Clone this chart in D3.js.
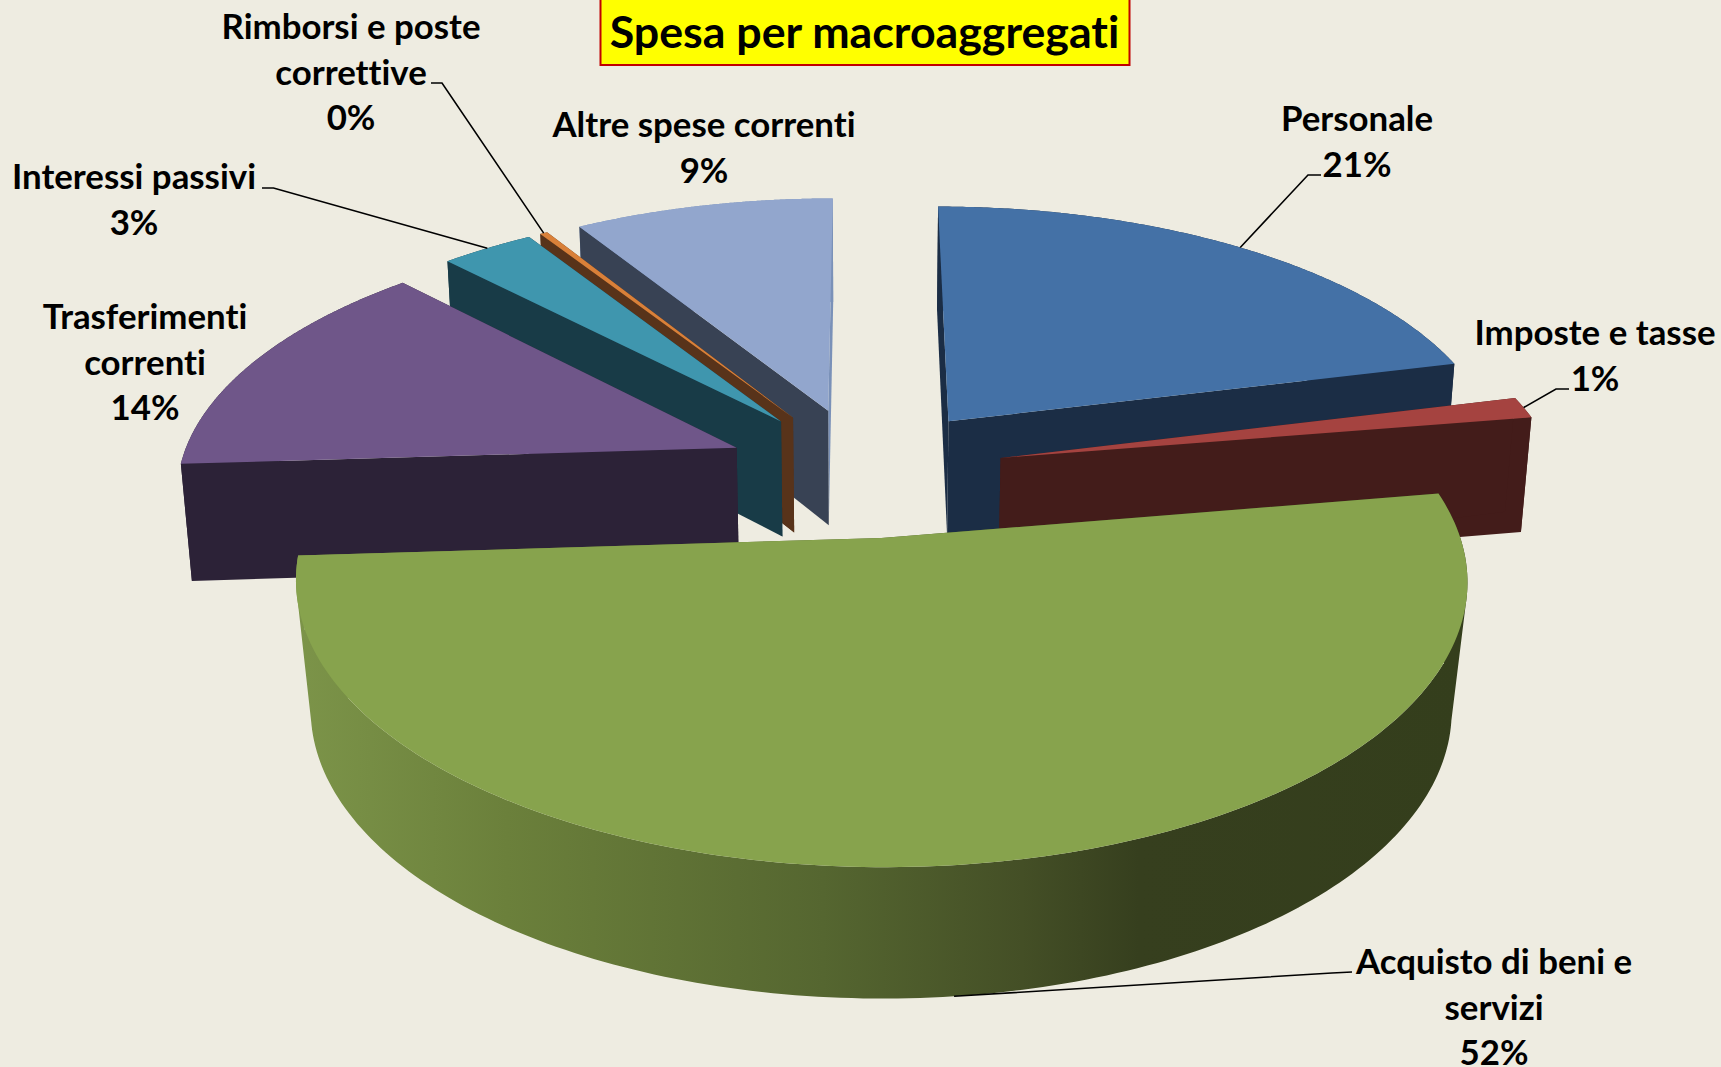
<!DOCTYPE html>
<html><head><meta charset="utf-8">
<script src="https://cdn.jsdelivr.net/npm/d3@7/dist/d3.min.js"></script>
<style>html,body{margin:0;padding:0;background:#eeece1;overflow:hidden}svg{display:block}text{font-family:Lato,sans-serif;font-weight:700;fill:#000;font-variant-ligatures:none}</style>
</head><body><svg id="c" width="1721" height="1067"></svg>
<script>
const categories=["Personale","Imposte e tasse","Acquisto di beni e servizi","Trasferimenti correnti","Interessi passivi","Rimborsi e poste correttive","Altre spese correnti"];
const values=[21.1,1.3,51.6,13.8,3.15,0.25,8.8];
const topColors=["#4471a6","#a54340","#87a34d","#6f5689","#3f96ae","#d98039","#92a6cd"];
const startWallColors=["#1b2d45","#431c1a","url(#rim)","#2c2237","#183b47","#58331a","#384254"];
const endWallColors=["#1b2d45","#431c1a","url(#rim)","#2c2237","#183b47","#58331a","#7a91b8"];
const paintOrder=[6,5,4,3,0,1,2];
const labelLines=[["Personale"],["Imposte e tasse"],["Acquisto di beni e","servizi"],["Trasferimenti","correnti"],["Interessi passivi"],["Rimborsi e poste","correttive"],["Altre spese correnti"]];
const labelX=[1357,1595,1494,145,134,351,704];
const labelY=[131,345,974,329,189,39,137];
const leaderKnee=[[1308,175],[1556,389],[1332,973],null,[273.5,188],[442,83],null];
const leaderEnd=[[1321,175],[1569,389],[1352,972],null,[262,188],[431,83],null];
const explode=0.25,persp=0.146,drop=0.0165,depth=0.46;
const rimPersp=[persp,persp,0.10,persp,persp,persp,persp];
const rimDepth=[depth,depth,0.547,depth,depth,depth,depth];
const rimDrop=[drop,drop,0.008,drop,drop,drop,drop];
const x=d3.scaleLinear().domain([-1,1]).range([307,1423]);
const y=d3.scaleLinear().domain([-1,1]).range([211.5,730.5]);
const svg=d3.select("#c");
svg.append("rect").attr("width",1721).attr("height",1067).attr("fill","#eeece1");
const defs=svg.append("defs");
const grad=defs.append("linearGradient").attr("id","rim").attr("gradientUnits","userSpaceOnUse").attr("x1",296).attr("x2",1467).attr("y1",0).attr("y2",0);
[[0,"#7c9449"],[.18,"#6b803b"],[.45,"#556630"],[.62,"#444f26"],[.72,"#363f1e"],[1,"#343e1c"]].forEach(s=>grad.append("stop").attr("offset",s[0]).attr("stop-color",s[1]));
const arcs=d3.pie().sort(null).value(d=>d)(values);
function proj(a,r,w,mid,k=persp,h=depth,m=drop){
  const U=r*Math.sin(a)+explode*Math.sin(mid),V=-r*Math.cos(a)-explode*Math.cos(mid),d=1-k*V+m*w;
  return [x(U/d),y((V+h*w)/d)];
}
const line=d3.line().curve(d3.curveLinear);
const closed=p=>line(p)+"Z";
const upright=q=>d3.polygonArea(q)<0?q.slice().reverse():q;
const sampleAngles=(a0,a1)=>d3.range(0,181).map(i=>a0+(a1-a0)*i/180);
const g=svg.append("g");
paintOrder.forEach(i=>{
  const s=arcs[i],mid=(s.startAngle+s.endAngle)/2,A=sampleAngles(s.startAngle,s.endAngle);
  const low=(a,r)=>proj(a,r,1,mid,rimPersp[i],rimDepth[i],rimDrop[i]);
  const gs=g.append("g").attr("class","slice");
  // outer wall: one quad per angular step so the silhouette follows the generators
  const quads=d3.pairs(A).map(([a,b])=>closed(upright([proj(a,1,0,mid),proj(b,1,0,mid),low(b,1),low(a,1)]))).join("");
  gs.append("path").attr("d",quads).attr("fill",endWallColors[i]);
  gs.append("path").attr("d",closed([proj(0,0,0,mid),proj(s.endAngle,1,0,mid),low(s.endAngle,1),low(0,0)])).attr("fill",endWallColors[i]);
  gs.append("path").attr("d",closed([proj(0,0,0,mid),proj(s.startAngle,1,0,mid),low(s.startAngle,1),low(0,0)])).attr("fill",startWallColors[i]);
  gs.append("path").attr("d",closed([proj(0,0,0,mid)].concat(A.map(a=>proj(a,1,0,mid))))).attr("fill",topColors[i]);
});
// leader lines
arcs.forEach((s,i)=>{
  if(!leaderKnee[i])return;
  const mid=(s.startAngle+s.endAngle)/2;
  const start=i===2?proj(mid,1,1,mid,rimPersp[2],rimDepth[2],rimDrop[2]):proj(mid,1,0,mid);
  svg.append("path").attr("d",line([start,leaderKnee[i],leaderEnd[i]])).attr("fill","none").attr("stroke","#000").attr("stroke-width",1.6);
});
// labels
const fmt=d3.format(".0f"),lh=45.7,fs=33.5,sx=1.04;
arcs.forEach((s,i)=>{
  const lines=labelLines[i].concat([fmt(values[i])+"%"]);
  lines.forEach((t,j)=>svg.append("text").attr("transform",`translate(${labelX[i]},${labelY[i]+j*lh}) scale(${sx},1)`).attr("text-anchor","middle").attr("font-size",fs).text(t));
});
// title
svg.append("rect").attr("x",600.5).attr("y",-2).attr("width",529).attr("height",67).attr("fill","#ffff00").attr("stroke","#c00000").attr("stroke-width",2);
svg.append("text").attr("transform",`translate(864.5,48) scale(${sx},1)`).attr("text-anchor","middle").attr("font-size",43).text("Spesa per macroaggregati");
</script></body></html>
